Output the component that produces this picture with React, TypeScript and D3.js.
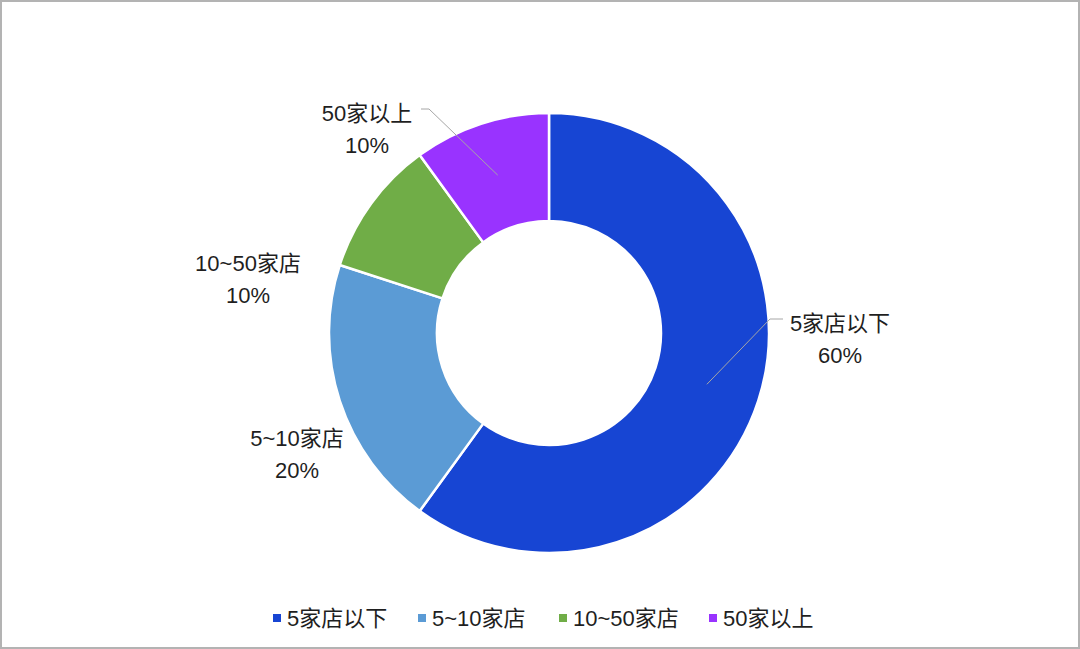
import React from "react";
import * as d3 from "d3";

const categories = ["5家店以下", "5~10家店", "10~50家店", "50家以上"];
const values = [60, 20, 10, 10];
const percentLabels = ["60%", "20%", "10%", "10%"];
const colors = ["#1745D3", "#5B9BD5", "#70AD47", "#9933FF"];

// layout (label anchor offsets from chart centre, per slice)
const labelOffsets: [number, number][] = [
  [291, -2],
  [-252, 113],
  [-301, -62],
  [-182, -212],
];
const leaderSlices = [0, 3];
const legendX = [273, 418, 559, 709];

const W = 1080;
const H = 649;
const cx = 549;
const cy = 333;
const rOuter = 220;
const rInner = 112;
const FONT = "'Liberation Sans', Arial, 'Noto Sans CJK SC', sans-serif";
const FS = 22;

export default function App() {
  const pie = d3
    .pie<number>()
    .sort(null)
    .value((d) => d)
    .startAngle(0)
    .endAngle(2 * Math.PI);
  const arcs = pie(values);
  const arcGen = d3
    .arc<d3.PieArcDatum<number>>()
    .innerRadius(rInner)
    .outerRadius(rOuter);
  const total = d3.sum(values);

  return (
    <svg
      width={W}
      height={H}
      style={{ position: "absolute", left: 0, top: 0, display: "block" }}
      fontFamily={FONT}
    >
      <rect x={0} y={0} width={W} height={H} fill="#ffffff" />
      <rect
        x={1}
        y={1}
        width={W - 2}
        height={H - 2}
        fill="none"
        stroke="#b3b3b3"
        strokeWidth={2}
      />
      <g transform={`translate(${cx},${cy})`}>
        {arcs.map((a, i) => (
          <path
            key={i}
            d={arcGen(a) || ""}
            fill={colors[i]}
            stroke="#ffffff"
            strokeWidth={2.5}
            strokeLinejoin="round"
          />
        ))}
        {leaderSlices.map((i) => {
          const a = arcs[i];
          const [x0, y0] = arcGen.centroid(a);
          const [lx, ly] = labelOffsets[i];
          const right = lx > 0;
          const yLine = ly - 12;
          const xEnd = right ? lx - 57 : lx + 54;
          const xKnee = right ? xEnd - 13 : xEnd + 8;
          return (
            <polyline
              key={"l" + i}
              points={`${x0},${y0} ${xKnee},${yLine} ${xEnd},${yLine}`}
              fill="none"
              stroke="#a6a6a6"
              strokeWidth={1}
            />
          );
        })}
        {arcs.map((a, i) => {
          const [lx, ly] = labelOffsets[i];
          return (
            <text
              key={"t" + i}
              textAnchor="middle"
              fontSize={FS}
              fill="#1f1f1f"
            >
              <tspan x={lx} y={ly}>
                {categories[i]}
              </tspan>
              <tspan x={lx} y={ly + 32}>
                {percentLabels[i] ||
                  Math.round((values[i] / total) * 100) + "%"}
              </tspan>
            </text>
          );
        })}
      </g>
      <g>
        {categories.map((c, i) => (
          <g key={"lg" + i}>
            <rect
              x={legendX[i]}
              y={614}
              width={8}
              height={8}
              fill={colors[i]}
            />
            <text x={legendX[i] + 14} y={626} fontSize={FS} fill="#1f1f1f">
              {c}
            </text>
          </g>
        ))}
      </g>
    </svg>
  );
}
